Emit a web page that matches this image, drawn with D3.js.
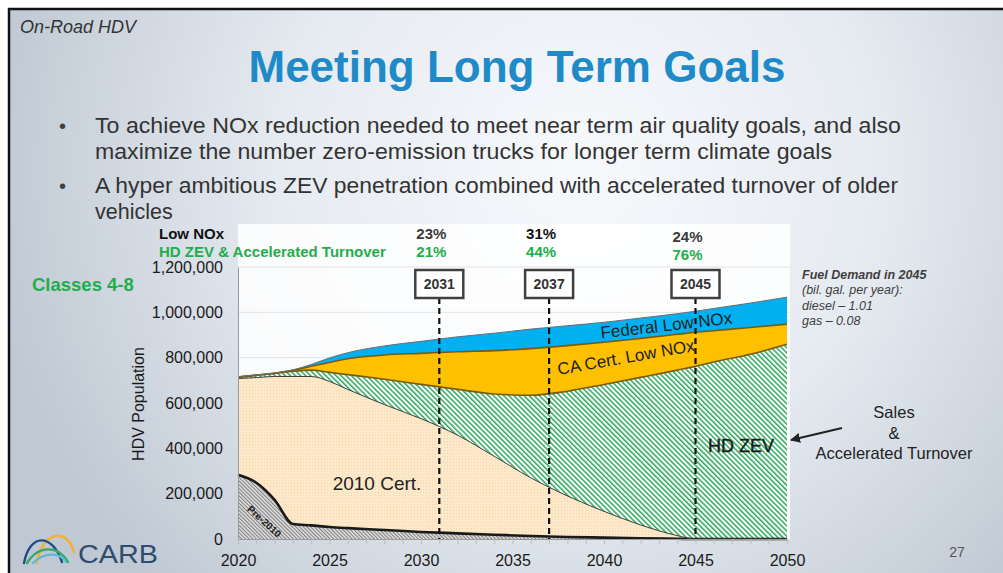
<!DOCTYPE html>
<html>
<head>
<meta charset="utf-8">
<script src="https://cdn.jsdelivr.net/npm/d3@7"></script>
<style>
  html, body { margin: 0; padding: 0; background: #fff; }
  svg { display: block; font-family: "Liberation Sans", Arial, sans-serif; }
</style>
</head>
<body>
<div id="root"></div>
<script>
// Data (population in thousands)
const years      = [2020, 2021, 2022, 2023, 2024, 2025, 2026, 2028, 2030, 2032, 2034, 2036, 2038, 2040, 2042, 2044, 2045, 2046, 2048, 2050];
const pre2010    = [283, 248, 173, 66, 60, 53, 48, 40, 31, 25, 19, 13, 9, 6, 3, 1, 0, 0, 0, 0];
const cert2010   = [425, 464, 544, 651, 657, 642, 612, 553, 500, 433, 346, 257, 181, 116, 59, 14, 0, 0, 0, 0];
const hdZev      = [6, 10, 13, 23, 28, 40, 65, 112, 151, 202, 275, 364, 462, 560, 651, 730, 762, 781, 815, 859];
const caLowNox   = [1, 1, 1, 4, 17, 44, 70, 107, 137, 166, 191, 206, 201, 186, 172, 158, 150, 138, 118, 89];
const fedLowNox  = [1, 1, 2, 2, 8, 20, 27, 40, 53, 66, 77, 86, 88, 88, 90, 91, 93, 98, 108, 119];

const xTicks = [2020, 2025, 2030, 2035, 2040, 2045, 2050];
const yTicks = [0, 200000, 400000, 600000, 800000, 1000000, 1200000];

const milestoneYears = [2031, 2037, 2045];
const lowNoxPct      = ['23%', '31%', '24%'];
const zevPct         = ['21%', '44%', '76%'];

const bullets = [
  ['To achieve NOx reduction needed to meet near term air quality goals, and also',
   'maximize the number zero-emission trucks for longer term climate goals'],
  ['A hyper ambitious ZEV penetration combined with accelerated turnover of older',
   'vehicles']
];
const fuelLines = ['Fuel Demand in 2045', '(bil. gal. per year):', 'diesel \u2013 1.01', 'gas \u2013 0.08'];

const W = 1003, H = 573;

const svg = d3.select('#root').append('svg')
  .attr('width', W).attr('height', H);

const defs = svg.append('defs');

// slide background
const bg = defs.append('radialGradient').attr('id', 'bg')
  .attr('gradientUnits', 'userSpaceOnUse')
  .attr('cx', 580).attr('cy', 170).attr('r', 600);
bg.append('stop').attr('offset', 0).attr('stop-color', '#f7f9fc');
bg.append('stop').attr('offset', 0.5).attr('stop-color', '#e6ebf1');
bg.append('stop').attr('offset', 1).attr('stop-color', '#bfc8d3');

// hatches
const zevPat = defs.append('pattern').attr('id', 'zev')
  .attr('patternUnits', 'userSpaceOnUse').attr('width', 3.6).attr('height', 3.6)
  .attr('patternTransform', 'rotate(-45)');
zevPat.append('rect').attr('width', 3.6).attr('height', 3.6).attr('fill', '#ffffff');
zevPat.append('rect').attr('width', 1.5).attr('height', 3.6).attr('fill', '#2aa85a');

const prePat = defs.append('pattern').attr('id', 'pre')
  .attr('patternUnits', 'userSpaceOnUse').attr('width', 2.6).attr('height', 2.6)
  .attr('patternTransform', 'rotate(-45)');
prePat.append('rect').attr('width', 2.6).attr('height', 2.6).attr('fill', '#dedede');
prePat.append('rect').attr('width', 1).attr('height', 2.6).attr('fill', '#7e7e7e');

const certPat = defs.append('pattern').attr('id', 'cert')
  .attr('patternUnits', 'userSpaceOnUse').attr('width', 3).attr('height', 3);
certPat.append('rect').attr('width', 3).attr('height', 3).attr('fill', '#fde9c9');
certPat.append('rect').attr('width', 1).attr('height', 1).attr('fill', '#f3d8ac');

const arrow = defs.append('marker').attr('id', 'arr')
  .attr('viewBox', '0 0 10 10').attr('refX', 9).attr('refY', 5)
  .attr('markerWidth', 5).attr('markerHeight', 5).attr('orient', 'auto');
arrow.append('path').attr('d', 'M0,0 L10,5 L0,10 Z').attr('fill', '#222');

svg.append('rect').attr('width', W).attr('height', H).attr('fill', '#fff');
svg.append('rect').attr('x', 9).attr('y', 9).attr('width', W).attr('height', H).attr('fill', 'url(#bg)');
svg.append('path').attr('d', `M9,${H} L9,9 L${W},9`)
  .attr('fill', 'none').attr('stroke', '#111').attr('stroke-width', 2.5);

// Header
svg.append('text').attr('x', 20).attr('y', 33)
  .attr('font-size', 18).attr('font-style', 'italic').attr('fill', '#333')
  .text('On-Road HDV');
svg.append('text').attr('x', 517).attr('y', 82).attr('text-anchor', 'middle')
  .attr('font-size', 44).attr('font-weight', 'bold').attr('fill', '#1e8bc8')
  .text('Meeting Long Term Goals');

const lineY = [[133, 159], [193, 219]];
const lineLen = [[806, 737], [803, null]];
bullets.forEach((b, i) => {
  svg.append('text').attr('x', 59).attr('y', lineY[i][0])
    .attr('font-size', 20).attr('fill', '#404040').text('\u2022');
  b.forEach((t, j) => {
    const tx = svg.append('text').attr('x', 95).attr('y', lineY[i][j])
      .attr('font-size', 21.5).attr('fill', '#333').text(t);
    if (lineLen[i][j]) tx.attr('textLength', lineLen[i][j]).attr('lengthAdjust', 'spacingAndGlyphs');
  });
});

// Chart
const x = d3.scaleLinear().domain([2020, 2050]).range([238, 787]);
const y = d3.scaleLinear().domain([0, 1200000]).range([539, 267]);

svg.append('rect').attr('x', 238).attr('y', 224).attr('width', 552).attr('height', 315)
  .attr('fill', '#fff').attr('opacity', 0.85);

// gridlines
svg.append('g').selectAll('line').data(yTicks.slice(1)).join('line')
  .attr('x1', 238).attr('x2', 790)
  .attr('y1', d => y(d)).attr('y2', d => y(d))
  .attr('stroke', '#e3e3e3').attr('stroke-width', 1);

const table = years.map((yr, i) => ({
  year: yr,
  pre2010: pre2010[i] * 1000,
  cert2010: cert2010[i] * 1000,
  hdZev: hdZev[i] * 1000,
  caLowNox: caLowNox[i] * 1000,
  fedLowNox: fedLowNox[i] * 1000
}));
const keys = ['pre2010', 'cert2010', 'hdZev', 'caLowNox', 'fedLowNox'];
const series = d3.stack().keys(keys)(table);

const fills = {
  pre2010: 'url(#pre)', cert2010: 'url(#cert)', hdZev: 'url(#zev)',
  caLowNox: '#ffc000', fedLowNox: '#00b0f0'
};
const edge = {
  pre2010: ['#1a1a1a', 2.6], cert2010: ['#3c3c3c', 1], hdZev: ['#7a5a10', 1.6],
  caLowNox: ['#7a5a10', 1.6], fedLowNox: ['#6d6d6d', 1]
};

const area = d3.area()
  .x(d => x(d.data.year))
  .y0(d => y(d[0])).y1(d => y(d[1]))
  .curve(d3.curveMonotoneX);
const topLine = d3.line()
  .x(d => x(d.data.year)).y(d => y(d[1]))
  .curve(d3.curveMonotoneX);

svg.append('g').selectAll('path').data(series).join('path')
  .attr('d', area).attr('fill', d => fills[d.key]);
svg.append('g').selectAll('path').data(series).join('path')
  .attr('d', topLine).attr('fill', 'none')
  .attr('stroke', d => edge[d.key][0]).attr('stroke-width', d => edge[d.key][1]);

// axes
const yAxis = svg.append('g').attr('transform', 'translate(238,0)')
  .call(d3.axisLeft(y).tickValues(yTicks).tickFormat(d3.format(',')).tickSize(0).tickPadding(15));
yAxis.select('.domain').attr('stroke', '#9a9a9a');
yAxis.selectAll('text').attr('font-size', 16).attr('fill', '#1a1a1a')
  .attr('font-family', '"Liberation Sans", Arial, sans-serif');

const minor = svg.append('g').attr('transform', 'translate(0,539)')
  .call(d3.axisBottom(x).tickValues(d3.range(2020, 2051)).tickFormat('').tickSize(5));
minor.select('.domain').attr('stroke', '#9a9a9a');
minor.selectAll('line').attr('stroke', '#bdbdbd');

const xAxis = svg.append('g').attr('transform', 'translate(0,539)')
  .call(d3.axisBottom(x).tickValues(xTicks).tickFormat(d3.format('d')).tickSize(0).tickPadding(16));
xAxis.select('.domain').remove();
xAxis.selectAll('text').attr('font-size', 16).attr('fill', '#1a1a1a')
  .attr('font-family', '"Liberation Sans", Arial, sans-serif');

svg.append('text')
  .attr('transform', 'translate(144,404) rotate(-90)')
  .attr('text-anchor', 'middle').attr('font-size', 16).attr('fill', '#1a1a1a')
  .text('HDV Population');

// milestones
const ms = svg.append('g').selectAll('g').data(milestoneYears).join('g')
  .attr('transform', d => `translate(${x(d)},0)`);
ms.append('line').attr('y1', 298).attr('y2', 539)
  .attr('stroke', '#111').attr('stroke-width', 2.2).attr('stroke-dasharray', '6,4');
ms.append('rect').attr('x', -24).attr('y', 270).attr('width', 48).attr('height', 28)
  .attr('fill', '#fff').attr('stroke', '#404040').attr('stroke-width', 2.5);
ms.append('text').attr('y', 289).attr('text-anchor', 'middle')
  .attr('font-size', 14).attr('font-weight', 'bold').attr('fill', '#333')
  .text(d => d);
ms.append('text').attr('x', -8).attr('y', (d, i) => i === 2 ? 242 : 239).attr('text-anchor', 'middle')
  .attr('font-size', 15).attr('font-weight', 'bold').attr('fill', (d, i) => i === 1 ? '#111' : '#3a3a3a')
  .text((d, i) => lowNoxPct[i]);
ms.append('text').attr('x', -8).attr('y', (d, i) => i === 2 ? 260 : 257).attr('text-anchor', 'middle')
  .attr('font-size', 15).attr('font-weight', 'bold').attr('fill', '#1fae4b')
  .text((d, i) => zevPct[i]);

svg.append('text').attr('x', 159).attr('y', 239)
  .attr('font-size', 15).attr('font-weight', 'bold').attr('fill', '#111').text('Low NOx');
svg.append('text').attr('x', 159).attr('y', 257)
  .attr('font-size', 15).attr('font-weight', 'bold').attr('fill', '#1fae4b')
  .text('HD ZEV & Accelerated Turnover');
svg.append('text').attr('x', 32).attr('y', 291)
  .attr('font-size', 18.5).attr('font-weight', 'bold').attr('fill', '#1fae4b')
  .text('Classes 4-8');

// labels in the areas
svg.append('text').attr('transform', 'translate(667,331) rotate(-6.5)')
  .attr('text-anchor', 'middle').attr('font-size', 17).attr('fill', '#222')
  .text('Federal Low NOx');
svg.append('text').attr('transform', 'translate(627,363) rotate(-10)')
  .attr('text-anchor', 'middle').attr('font-size', 17).attr('fill', '#222')
  .text('CA Cert. Low NOx');
svg.append('text').attr('x', 741).attr('y', 452).attr('text-anchor', 'middle')
  .attr('font-size', 18).attr('fill', '#1a1a1a')
  .attr('stroke', '#1a1a1a').attr('stroke-width', 0.4).text('HD ZEV');
svg.append('text').attr('x', 377).attr('y', 490).attr('text-anchor', 'middle')
  .attr('font-size', 19).attr('fill', '#222').text('2010 Cert.');
svg.append('text').attr('transform', 'translate(262,524) rotate(42)')
  .attr('text-anchor', 'middle').attr('font-size', 10).attr('font-weight', 'bold').attr('fill', '#222')
  .text('Pre-2010');

// right notes
svg.append('g').selectAll('text').data(fuelLines).join('text')
  .attr('x', 802).attr('y', (d, i) => 279 + i * 15.3)
  .attr('font-size', 12.5).attr('font-style', 'italic')
  .attr('font-weight', (d, i) => i === 0 ? 'bold' : 'normal')
  .attr('fill', '#404040').text(d => d);

svg.append('g').selectAll('text').data(['Sales', '&', 'Accelerated Turnover']).join('text')
  .attr('x', 894).attr('y', (d, i) => 418 + i * 20.5).attr('text-anchor', 'middle')
  .attr('font-size', 16.5).attr('fill', '#222').text(d => d);
svg.append('line').attr('x1', 842).attr('y1', 428).attr('x2', 791).attr('y2', 440)
  .attr('stroke', '#222').attr('stroke-width', 2).attr('marker-end', 'url(#arr)');

// footer
svg.append('text').attr('x', 957).attr('y', 557).attr('text-anchor', 'middle')
  .attr('font-size', 14).attr('fill', '#555').text('27');

const logo = svg.append('g').attr('fill', 'none').attr('stroke-width', 2.4).attr('stroke-linecap', 'round');
logo.append('path').attr('d', 'M37,563 C42,530 68,528 74,552').attr('stroke', '#f2b230');
logo.append('path').attr('d', 'M24,563 C30,533 52,533 62,562').attr('stroke', '#1f4f8a');
logo.append('path').attr('d', 'M27,563 C38,545 58,545 68,562').attr('stroke', '#3aa76d');
logo.append('path').attr('d', 'M33,563 C44,552 60,552 66,562').attr('stroke', '#5bb9d6');
svg.append('text').attr('x', 78).attr('y', 563)
  .attr('font-size', 26).attr('fill', '#2f4d6e')
  .attr('textLength', 80).attr('lengthAdjust', 'spacingAndGlyphs')
  .text('CARB');
</script>
</body>
</html>
